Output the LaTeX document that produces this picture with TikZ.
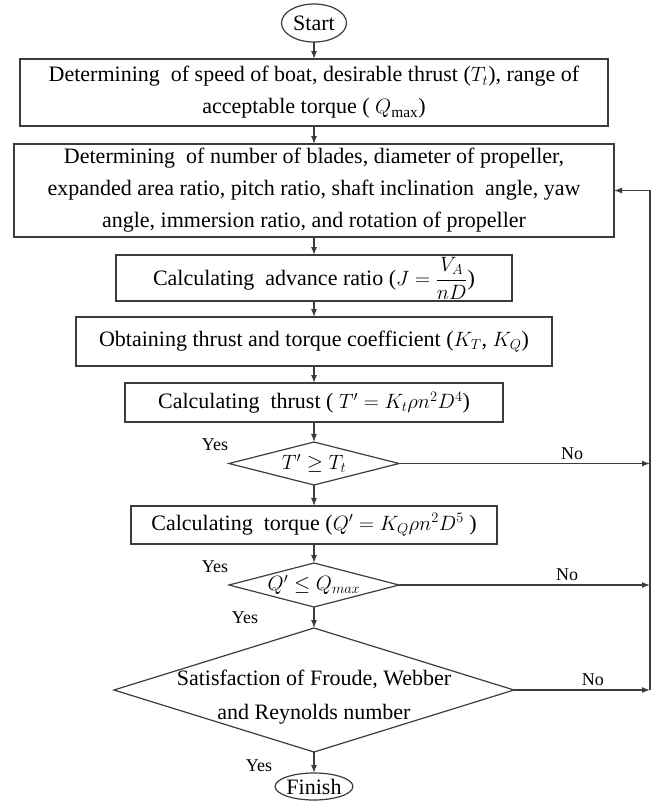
\documentclass[tikz,border=0pt]{standalone}
\usepackage{amsmath,amssymb}
\usepackage{fontspec}
\setmainfont{Liberation Serif}
\usepackage{xcolor}
\usepackage{tikz}
\usetikzlibrary{shapes.geometric,arrows.meta,positioning}

\definecolor{linegray}{HTML}{3C3C3C}

\begin{document}
\begin{tikzpicture}[
    x=1pt, y=-1pt,
    process/.style={rectangle, draw=linegray, line width=1.2pt, align=center, inner sep=2pt, outer sep=0pt, font=\fontsize{22}{32}\selectfont},
    terminal/.style={ellipse, draw=linegray, line width=1.2pt, inner xsep=0pt, inner ysep=-4pt, outer sep=0pt, font=\fontsize{22}{32}\selectfont},
    decision/.style={diamond, draw=linegray, line width=1.2pt, align=center, inner sep=0pt, outer sep=0pt, shape aspect=4, font=\fontsize{22}{34}\selectfont},
    answer/.style={font=\fontsize{18}{20}\selectfont},
    flow/.style={draw=linegray, line width=1.2pt, -{Latex[length=8pt,width=6pt]}}
]
    \useasboundingbox (0,0) rectangle (662,801);

    % Main column
    \node[terminal, minimum width=65pt, minimum height=38pt] (start) at (314,23) {Start};
    \node[process, below=17pt of start, minimum width=588pt, minimum height=67pt] (inputs)
        {Determining\ \ of speed of boat, desirable thrust ($T_t$), range of\\acceptable torque ( $Q_{\mathrm{max}}$)};
    \node[process, below=18pt of inputs, minimum width=600pt, minimum height=93pt] (params)
        {Determining\ \ of number of blades, diameter of propeller,\\expanded area ratio, pitch ratio, shaft inclination\ \ angle, yaw\\angle,\ immersion ratio, and rotation of propeller};
    \node[process, below=18pt of params, minimum width=396pt, minimum height=46pt, text height=29pt, text depth=14pt, inner ysep=1pt] (advance)
        {Calculating\ \ advance ratio ($J=\dfrac{V_A}{nD}$)};
    \node[process, below=16pt of advance, minimum width=476pt, minimum height=49pt] (coeff)
        {Obtaining thrust and torque coefficient ($K_T$, $K_Q$)};
    \node[process, below=17pt of coeff, minimum width=378pt, minimum height=39pt] (thrust)
        {Calculating\ \ thrust ( $T'=K_t\rho n^2D^4$)};
    \node[decision, below=20pt of thrust, minimum width=170pt, minimum height=43pt] (thrustchk)
        {$T'\geq T_t$};
    \node[process, below=21pt of thrustchk, minimum width=366pt, minimum height=38pt] (torque)
        {Calculating\ \ torque ($Q'=K_Q\rho n^2D^5$ )};
    \node[decision, below=19pt of torque, minimum width=170pt, minimum height=44pt, inner xsep=-10pt] (torquechk)
        {$Q'\leq Q_{max}$};
    \node[decision, below=21pt of torquechk, minimum width=400pt, minimum height=124pt, inner xsep=-40pt, inner ysep=-12pt, shape aspect=3.2] (similarity)
        {\rule{0pt}{30pt}Satisfaction of Froude, Webber\\and Reynolds number};
    \node[terminal, below=21pt of similarity, minimum width=74pt, minimum height=27pt] (finish) {Finish};

    % Feedback rail
    \coordinate (rail) at (650,0);

    % Forward arrows
    \draw[flow] (start) -- (inputs);
    \draw[flow] (inputs) -- (params);
    \draw[flow] (params) -- (advance);
    \draw[flow] (advance) -- (coeff);
    \draw[flow] (coeff) -- (thrust);
    \draw[flow] (thrust) -- (thrustchk);
    \draw[flow] (thrustchk) -- (torque);
    \draw[flow] (torque) -- (torquechk);
    \draw[flow] (torquechk) -- (similarity);
    \draw[flow] (similarity) -- (finish);

    % No branches
    \draw[flow] (thrustchk.east) -- (thrustchk.east -| rail) node[answer, pos=0.69, above] {No};
    \draw[flow] (torquechk.east) -- (torquechk.east -| rail) node[answer, pos=0.67, above] {No};
    \draw[flow] (similarity.east) -- (similarity.east -| rail) node[answer, pos=0.58, above] {No};
    \draw[flow] (similarity.east -| rail) -- (params.east -| rail) -- (params.east);

    % Yes labels
    \node[answer] (yes1) at (215,445) {Yes};
    \node[answer] (yes2) at (215,567) {Yes};
    \node[answer] (yes3) at (245,618) {Yes};
    \node[answer] (yes4) at (259,766) {Yes};
\end{tikzpicture}
\end{document}
